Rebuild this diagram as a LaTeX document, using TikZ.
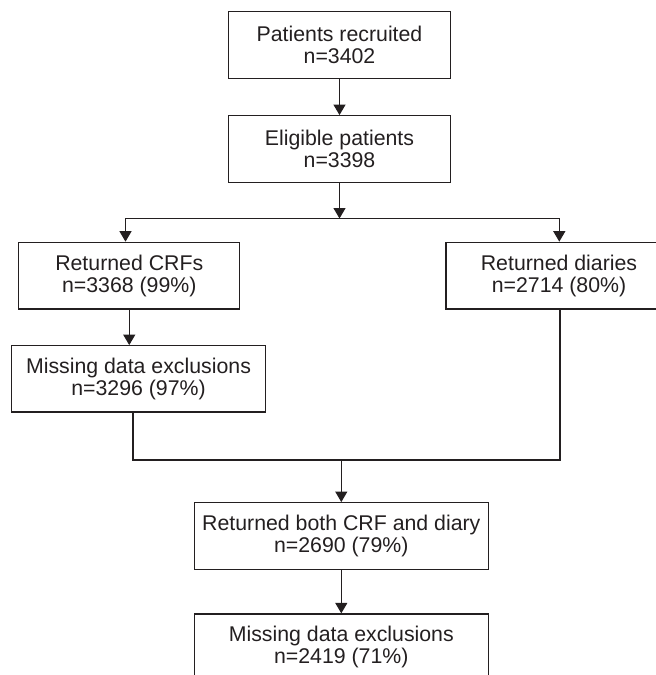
\documentclass[tikz,border=0pt]{standalone}
\usepackage{fontspec}
\setmainfont{Liberation Sans}
\usetikzlibrary{arrows.meta}
\definecolor{ink}{HTML}{231F20}
\begin{document}
\begin{tikzpicture}[x=1pt,y=-1pt,
  box/.style={draw=ink, line width=1.25pt, text=ink, inner sep=0pt, align=center,
    font=\fontsize{21.3}{21.7}\selectfont},
  arr/.style={draw=ink, line width=1.25pt, -{Triangle[width=12pt,length=10.5pt]}},
  ln/.style={draw=ink, line width=1.25pt}]
\useasboundingbox (0,0) rectangle (656,675);
\clip (0,0) rectangle (656,675);
\node[box, minimum width=221.3pt, minimum height=66.6pt] (b1) at (339.5,45) {Patients recruited\\n=3402};
\node[box, minimum width=221.3pt, minimum height=66.6pt] (b2) at (339.5,149) {Eligible patients\\n=3398};
\node[box, minimum width=220.9pt, minimum height=66.7pt] (b3) at (129.25,275.65) {Returned CRFs\\n=3368 (99\%)};
\node[box, minimum width=226pt, minimum height=66.7pt] (b4) at (559,275.65) {Returned diaries\\n=2714 (80\%)};
\node[box, minimum width=254.4pt, minimum height=66.3pt] (b5) at (138.5,378.85) {Missing data exclusions\\n=3296 (97\%)};
\node[box, minimum width=294pt, minimum height=66.6pt] (b6) at (341.3,536) {Returned both CRF and diary\\n=2690 (79\%)};
\node[box, minimum width=294pt, minimum height=66.6pt] (b7) at (341.3,647.3) {Missing data exclusions\\n=2419 (71\%)};
\coordinate (br) at (339.5,218.5);
\coordinate (brL) at (125.5,218.5);
\coordinate (brR) at (559.3,218.5);
\coordinate (m1) at (133,460);
\coordinate (m2) at (560,460);
\coordinate (mc) at (341.3,460);
\draw[arr] (b1) -- (b2);
\draw[arr] (b2.south) -- (br);
\draw[arr] (br) -- (brL) -- (brL |- b3.north);
\draw[arr] (br) -- (brR) -- (brR |- b4.north);
\draw[arr] (b3.south) -- (b3.south |- b5.north);
\draw[ln] (m1 |- b5.south) -- (m1) -- (m2) -- (m2 |- b4.south);
\draw[arr] (mc) -- (b6.north);
\draw[arr] (b6) -- (b7);
\end{tikzpicture}
\end{document}
